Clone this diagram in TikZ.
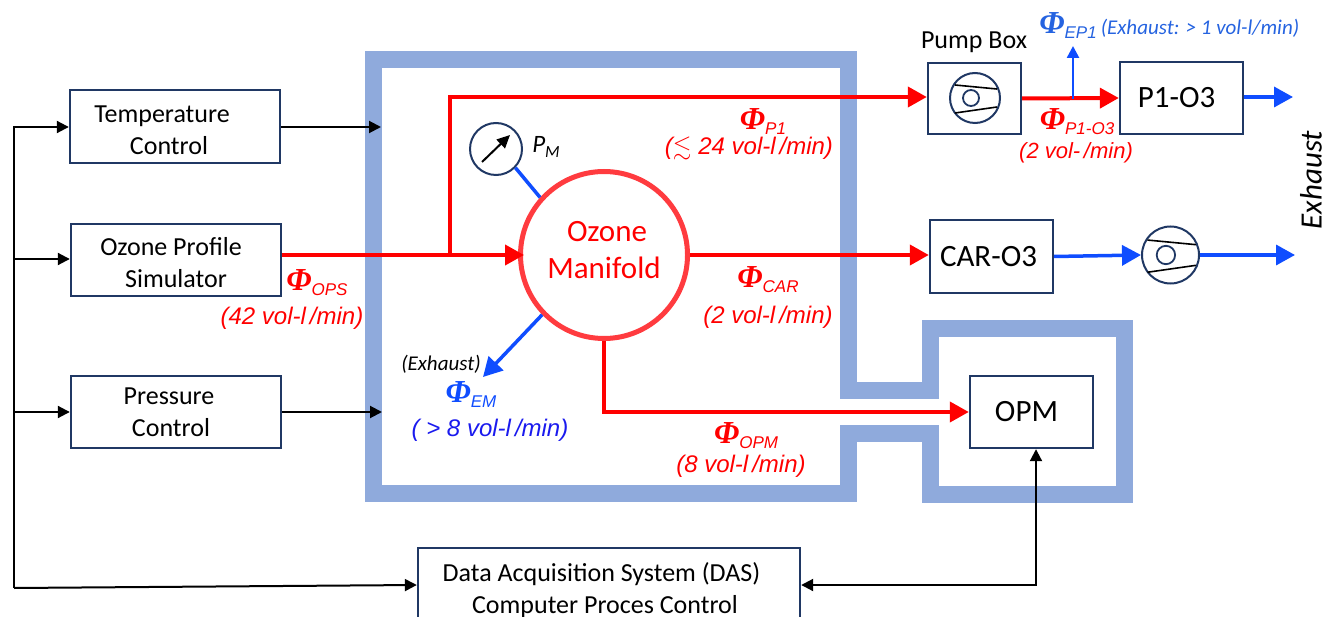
\documentclass[tikz,border=0pt]{standalone}
\usepackage{amssymb}
\usepackage{fontspec}
\setmainfont{Carlito}
\newfontfamily\ratefont{Liberation Sans}
\newfontfamily\phifont{Liberation Serif}
\usepackage{xcolor}
\usepackage{tikz}
\usetikzlibrary{arrows.meta,calc}
\definecolor{wallblue}{HTML}{8FAADC}
\definecolor{boxnavy}{HTML}{203864}
\definecolor{flowred}{HTML}{FF0000}
\definecolor{ringred}{HTML}{FF3B3F}
\definecolor{flowblue}{HTML}{0F4DFF}
\definecolor{rateblue}{HTML}{1A1AEE}
\definecolor{noteblue}{HTML}{2563E0}
\newcommand{\flowphi}[1]{{\phifont\bfseries\itshape\fontsize{32}{32}\selectfont Φ}\raisebox{-5pt}{\ratefont\itshape\fontsize{17}{17}\selectfont #1}}
\newcommand{\topstrut}[1]{\rule{0pt}{#1}}

\begin{document}
\begin{tikzpicture}[
			x=1pt, y=-1pt,
			unit/.style={draw=boxnavy, line width=2.4pt, inner sep=0pt, align=center, font=\fontsize{26}{32}\selectfont},
			bigunit/.style={unit, font=\fontsize{31}{36}\selectfont},
			pumpring/.style={draw=boxnavy, line width=2pt, circle, inner sep=0pt},
			wall/.style={draw=wallblue, line width=17pt, line join=miter},
			sigline/.style={draw=black, line width=2pt, -{Triangle[length=12pt,width=12pt]}},
			redflow/.style={draw=flowred, line width=4pt, -{Triangle[length=19pt,width=20pt]}},
			blueflow/.style={draw=flowblue, line width=3.5pt, -{Triangle[length=19pt,width=20pt]}},
			flowsym/.style={inner sep=0pt, text=flowred},
			flowrate/.style={inner sep=0pt, text=flowred, font=\ratefont\itshape\fontsize{24}{28}\selectfont},
			pumpinner/.pic={
				\draw[line width=1.8pt, draw=boxnavy] (-4,0) circle (8);
				\draw[line width=1.6pt, draw=black] (-20,-13) -- (22,-9);
				\draw[line width=1.6pt, draw=black] (-20,15) -- (22,9);
			}]
			\clip (0,0) rectangle (1327,617);
			\useasboundingbox (0,0) rectangle (1327,617);
			% chamber walls
			\draw[wall] (848,390) -- (930,390) -- (930,329) -- (1124,329) -- (1124,494) -- (930,494)
				-- (930,433) -- (848,433) -- (848,493) -- (373,493) -- (373,60) -- (848,60) -- cycle;
			% boxes
			\node[unit, minimum width=210pt, minimum height=73pt] (tempctrl) at (175,126.5) {\topstrut{25pt}Temperature\hspace*{26pt}\\Control\hspace*{12pt}};
			\node[unit, minimum width=210pt, minimum height=72pt] (ozonesim) at (176,260) {\topstrut{24pt}Ozone Profile\hspace*{10pt}\\Simulator};
			\node[unit, minimum width=210pt, minimum height=72pt] (pressctrl) at (176,412) {Pressure\hspace*{14pt}\\Control\hspace*{10pt}};
			\node[unit, minimum width=382pt, minimum height=80pt] (das) at (609,588) {\topstrut{23pt}Data Acquisition System (DAS)\hspace*{15pt}\\Computer Proces Control\hspace*{8pt}};
			\node[unit, minimum width=93pt, minimum height=71pt] (pumpbox) at (974.5,98.5) {};
			\node[bigunit, minimum width=123pt, minimum height=72pt] (pone) at (1181.5,98) {P1-O3\hspace*{10pt}};
			\node[bigunit, minimum width=123pt, minimum height=73pt] (car) at (991.5,256.5) {CAR-O3\hspace*{6pt}};
			\node[bigunit, minimum width=123pt, minimum height=72pt] (opm) at (1031.5,412) {OPM\hspace*{10pt}};
			\node[draw=ringred, line width=5pt, circle, minimum size=167pt, inner sep=0pt, align=center, text=flowred, font=\fontsize{31}{37}\selectfont] (manifold) at (604,255) {\hspace*{6pt}Ozone\\Manifold\rule[-11pt]{0pt}{11pt}};
			\node[pumpring, minimum size=50pt] (pumpa) at (975,98) {};
			\node[pumpring, minimum size=57pt] (pumpb) at (1170.5,255) {};
			\pic at (975,98) {pumpinner};
			\pic[scale=1.15] at (1170.5,255) {pumpinner};
			\node[pumpring, minimum size=52pt] (gauge) at (496,149) {};
			\draw[line width=2pt, -{Triangle[length=13pt,width=12pt]}] ($(gauge)+(-14,13)$) -- ($(gauge)+(14,-14)$);
			% control lines
			\coordinate (trunktop) at (14,127);
			\coordinate (trunkbot) at (14,588);
			\coordinate (trunkoz) at (14,259);
			\coordinate (trunkpr) at (14,412);
			\coordinate (walltemp) at (381,127);
			\coordinate (wallpr) at (382,412);
			\coordinate (dascorner) at (1036,585);
			\draw[sigline] (trunkbot) -- (trunktop) -- (tempctrl.west |- trunktop);
			\draw[sigline] (trunkoz) -- (ozonesim.west |- trunkoz);
			\draw[sigline] (trunkpr) -- (pressctrl.west |- trunkpr);
			\draw[sigline] (trunkbot) -- (das.west |- dascorner);
			\draw[sigline] (tempctrl.east |- walltemp) -- (walltemp);
			\draw[sigline] (pressctrl.east |- wallpr) -- (wallpr);
			\draw[sigline, {Triangle[length=12pt,width=12pt]}-{Triangle[length=12pt,width=12pt]}] (das.east |- dascorner) -- (dascorner) -- (opm.south -| dascorner);
			% ozone lines
			\coordinate (tee) at (450,255);
			\coordinate (teetop) at (450,95);
			\coordinate (teerun) at (450,97);
			\coordinate (opmbend) at (604,412);
			\coordinate (exhfoot) at (1073,99);
			\coordinate (exhp) at (1073,46);
			\coordinate (exhone) at (1293,97);
			\coordinate (exhtwo) at (1295,255);
			\coordinate (emtip) at (483,377);
			\draw[redflow, -] (tee) -- (teetop);
			\draw[redflow, shorten >=-6pt] (ozonesim.east |- tee) -- (manifold.west);
			\draw[redflow] (teerun) -- (pumpbox.west |- teerun);
			\draw[redflow] (manifold.east) -- (car.west |- manifold.east);
			\draw[redflow] (manifold.south) -- (opmbend) -- (opm.west);
			\draw[redflow] (pumpbox.east) -- (pone.west);
			\draw[blueflow, line width=2.5pt, -{Triangle[length=12pt,width=12pt]}] (exhfoot) -- (exhp);
			\draw[blueflow] (pone.east |- exhone) -- (exhone);
			\draw[blueflow] (car.east) -- (pumpb.west);
			\draw[blueflow] (pumpb.east) -- (exhtwo);
			\draw[blueflow, -] (gauge.-44) -- (manifold.138);
			\draw[blueflow] (manifold.224) -- (emtip);
			% labels
			\node[inner sep=0pt, font=\fontsize{26}{30}\selectfont] (pumplabel) at (974,42) {Pump Box};
			\node[inner sep=0pt, font=\itshape\fontsize{25}{28}\selectfont] (pmlabel) at (546,147) {P\raisebox{-5pt}{\fontsize{17}{17}\selectfont M}};
			\node[inner sep=0pt, rotate=90, font=\itshape\fontsize{31}{34}\selectfont] (exhaust) at (1311,180) {Exhaust};
			\node[inner sep=0pt, font=\itshape\fontsize{21}{24}\selectfont] (emnote) at (441,364) {(Exhaust)};
			\node[flowsym, text=noteblue] (phiep) at (1068,26) {\flowphi{EP1}};
			\node[inner sep=0pt, text=noteblue, font=\itshape\fontsize{21}{24}\selectfont] (rateep) at (1200,28) {(Exhaust: > 1 vol-l/min)};
			\node[flowsym] (phipone) at (763,122) {\flowphi{P1}};
			\node[flowrate] (ratepone) at (749,149) {($\lesssim$ 24 vol-l\,/min)};
			\node[flowsym] (phipo) at (1077,122) {\flowphi{P1-O3}};
			\node[flowrate, font=\ratefont\itshape\fontsize{22}{26}\selectfont] (ratepo) at (1076,153) {(2 vol-\,/min)};
			\node[flowsym] (phiops) at (317,283) {\flowphi{OPS}};
			\node[flowrate] (rateops) at (292,318) {(42 vol-l\,/min)};
			\node[flowsym] (phicar) at (768,280) {\flowphi{CAR}};
			\node[flowrate] (ratecar) at (768,317) {(2 vol-l\,/min)};
			\node[flowsym, text=flowblue] (phiem) at (471,395) {\flowphi{EM}};
			\node[flowrate, text=rateblue] (rateem) at (490,430) {( > 8 vol-l\,/min)};
			\node[flowsym] (phiopm) at (746,436) {\flowphi{OPM}};
			\node[flowrate] (rateopm) at (741,466) {(8 vol-l\,/min)};
		\end{tikzpicture}
\end{document}
